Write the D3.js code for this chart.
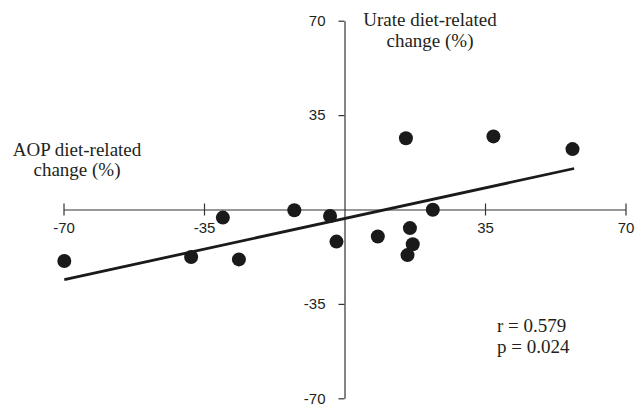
<!DOCTYPE html>
<html><head><meta charset="utf-8">
<script src="https://cdn.jsdelivr.net/npm/d3@7"></script>
<style>
html,body{margin:0;padding:0;background:#fff;}
svg{display:block;}
</style></head>
<body>
<svg id="chart" width="635" height="407"></svg>
<script>
// AOP diet-related change (%) — x values
const aopChange   = [-69.8, -38.2, -30.3, -26.3, -12.5, -3.6, -2.0, 8.3, 15.3, 15.7, 16.3, 17.0, 22.0, 37.1, 56.8];
// Urate diet-related change (%) — y values
const urateChange = [-19.1, -17.6, -3.0, -18.5, -0.3, -2.4, -11.9, -10.0, 26.4, -16.9, -6.9, -12.9, -0.1, 27.1, 22.4];
// regression line end points
const fitX = [-69.8, 57.2];
const fitY = [-26.0, 15.2];
const tickValues = [-70, -35, 35, 70];
const xTitle = ["AOP diet-related", "change (%)"];
const yTitle = ["Urate diet-related", "change (%)"];
const stats = ["r = 0.579", "p = 0.024"];

const svg = d3.select("#chart");
const ink = "#231f20";
const x = d3.scaleLinear().domain([-70, 70]).range([63.5, 625.5]);
const y = d3.scaleLinear().domain([-70, 70]).range([398.3, 20.7]);
const fmt = d => String(d);

// x axis
const gx = svg.append("g").attr("transform", `translate(0,${y(0)})`)
  .call(d3.axisBottom(x).tickValues(tickValues).tickFormat(fmt).tickSizeInner(6).tickSizeOuter(0).tickPadding(7));
gx.select(".domain").attr("stroke", "#333").attr("stroke-width", 1.2);
gx.selectAll(".tick line").attr("y1", -6).attr("stroke", "#333").attr("stroke-width", 1.2);
gx.selectAll(".tick text").attr("font-family", "'Liberation Sans', Arial, sans-serif").attr("font-size", 15).attr("fill", ink);

// y axis
const gy = svg.append("g").attr("transform", `translate(${x(0)},0)`)
  .call(d3.axisLeft(y).tickValues(tickValues).tickFormat(fmt).tickSizeInner(6).tickSizeOuter(0).tickPadding(13));
gy.select(".domain").attr("stroke", "#333").attr("stroke-width", 1.2);
gy.selectAll(".tick line").attr("stroke", "#333").attr("stroke-width", 1.2);
gy.selectAll(".tick text").attr("font-family", "'Liberation Sans', Arial, sans-serif").attr("font-size", 15).attr("fill", ink);

// regression line
svg.append("line")
  .attr("x1", x(fitX[0])).attr("y1", y(fitY[0]))
  .attr("x2", x(fitX[1])).attr("y2", y(fitY[1]))
  .attr("stroke", "#1a1a1a").attr("stroke-width", 2.8);

// points
svg.append("g").selectAll("circle").data(aopChange).join("circle")
  .attr("cx", d => x(d)).attr("cy", (d, i) => y(urateChange[i]))
  .attr("r", 7).attr("fill", "#1a1a1a");

const serif = "'Liberation Serif', 'Times New Roman', serif";
function block(lines, xp, yp, anchor, lh) {
  const t = svg.append("text").attr("font-family", serif).attr("font-size", 19)
    .attr("fill", ink).attr("text-anchor", anchor);
  lines.forEach((s, i) => t.append("tspan").attr("x", xp).attr("y", yp + i * lh).text(s));
}
block(yTitle, 430, 26, "middle", 21);
block(xTitle, 77, 155.5, "middle", 20.5);
block(stats, 497, 331.7, "start", 21);
</script>
</body></html>
